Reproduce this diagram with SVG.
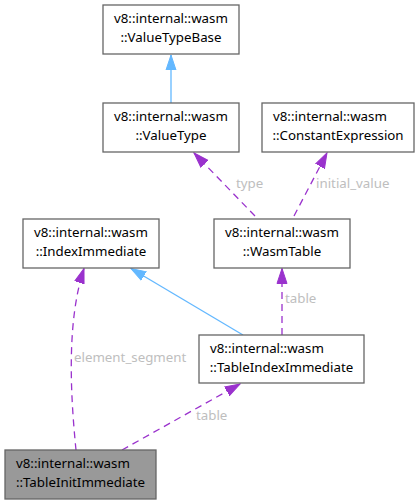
<svg xmlns="http://www.w3.org/2000/svg" width="418" height="504" viewBox="0 0 418 504">
<style>
.n rect{fill:#ffffff;stroke:#666666;stroke-width:1.3}
.n.h rect{fill:#999999}
.n text{font-family:"Noto Sans","DejaVu Sans",sans-serif;font-size:13.3px;fill:#000000}
.e path{fill:none;stroke-width:1.3}
.inh{stroke:#63b8ff}
.use{stroke:#9a32cd;stroke-dasharray:7,5}
.lbl{font-family:"Noto Sans","DejaVu Sans",sans-serif;font-size:13.3px;fill:#bebebe}
</style>
<defs>
<marker id="ab" markerUnits="userSpaceOnUse" markerWidth="16" markerHeight="12" refX="15" refY="5" orient="auto" viewBox="0 0 16 10"><path d="M0,0 L15,5 L0,10 z" fill="#63b8ff" stroke="#63b8ff" stroke-width="1"/></marker>
<marker id="ap" markerUnits="userSpaceOnUse" markerWidth="16" markerHeight="12" refX="15" refY="5" orient="auto" viewBox="0 0 16 10"><path d="M0,0 L15,5 L0,10 z" fill="#9a32cd" stroke="#9a32cd" stroke-width="1"/></marker>
</defs>
<g id="connectors" class="e">
<path class="inh" d="M171,103 L171,55" marker-end="url(#ab)"/>
<path class="use" d="M255,216 L194,153" marker-end="url(#ap)"/>
<path class="use" d="M294,216 L327,153" marker-end="url(#ap)"/>
<path class="inh" d="M243,335 L131,268.5" marker-end="url(#ab)"/>
<path class="use" d="M282,335 L282,268.5" marker-end="url(#ap)"/>
<path class="use" d="M76,450 C70,390 67,320 84,268.5" marker-end="url(#ap)"/>
<path class="use" d="M122,450 L240,384" marker-end="url(#ap)"/>
<text class="lbl" x="236" y="188">type</text>
<text class="lbl" x="316" y="188">initial_value</text>
<text class="lbl" x="285" y="303">table</text>
<text class="lbl" x="74" y="362">element_segment</text>
<text class="lbl" x="196" y="420">table</text>
</g>
<g id="ValueTypeBase" class="n"><rect x="103" y="5" width="136" height="49"/><text x="114" y="23">v8::internal::wasm</text><text x="171" y="42" text-anchor="middle">::ValueTypeBase</text></g>
<g id="ValueType" class="n"><rect x="103" y="103" width="136" height="49"/><text x="114" y="121">v8::internal::wasm</text><text x="171" y="140" text-anchor="middle">::ValueType</text></g>
<g id="ConstantExpression" class="n"><rect x="262" y="103" width="152" height="49"/><text x="273" y="121">v8::internal::wasm</text><text x="338" y="140" text-anchor="middle">::ConstantExpression</text></g>
<g id="IndexImmediate" class="n"><rect x="23" y="219" width="136" height="49"/><text x="34" y="237">v8::internal::wasm</text><text x="91" y="256" text-anchor="middle">::IndexImmediate</text></g>
<g id="WasmTable" class="n"><rect x="214" y="219" width="136" height="49"/><text x="225" y="237">v8::internal::wasm</text><text x="282" y="256" text-anchor="middle">::WasmTable</text></g>
<g id="TableIndexImmediate" class="n"><rect x="199" y="335" width="165" height="48"/><text x="210" y="353">v8::internal::wasm</text><text x="281.5" y="372" text-anchor="middle">::TableIndexImmediate</text></g>
<g id="TableInitImmediate" class="n h"><rect x="5" y="450" width="151" height="49"/><text x="16" y="468">v8::internal::wasm</text><text x="80.5" y="487" text-anchor="middle">::TableInitImmediate</text></g>
</svg>
